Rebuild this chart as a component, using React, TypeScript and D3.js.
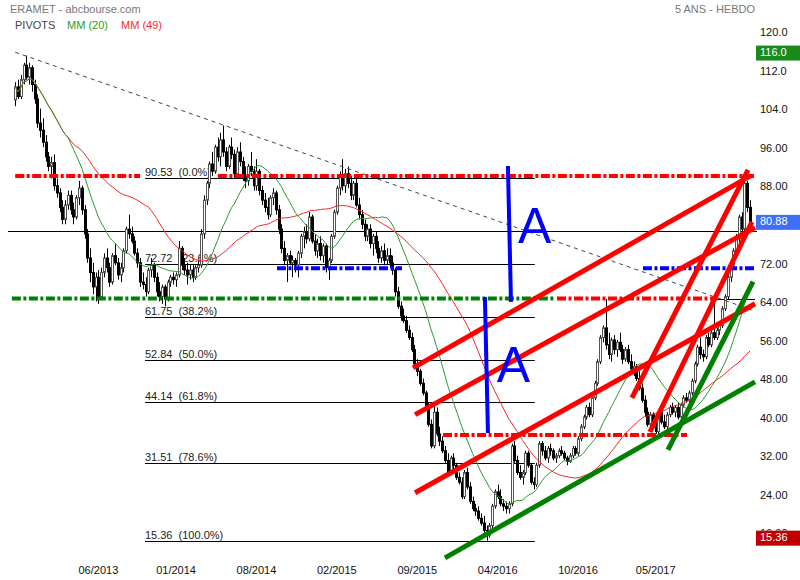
import React from 'react';
import * as d3 from 'd3';

const W = 800;
const H = 580;
const FONT = '"Liberation Sans", Arial, Helvetica, sans-serif';

// Weekly candles [open, high, low, close]
const ohlc: [number, number, number, number][] = [
[106.8,110.5,105.5,109.5],[109.5,111,107,107.5],[107.5,112,107,111],[111,114.5,110,114],[114,116,111,111.5],
[111.5,114.5,110,113.5],[113.5,114,108.5,110],[110,111,106,107],[107,108,101,102],[102,105,99,100.5],
[100.5,103,97,98],[98,99.5,94,95],[95,96,92,93],[93,95,90.5,93.8],[93.8,95.5,88,89],
[89,90.5,86.5,87.5],[87.5,88.5,83.5,84.5],[84.5,86,81,82],[82,86,81,85],[85,88,84,87],
[87,88,83,84],[84,85.5,81,82.5],[82.5,87,82,86.5],[86.5,90,85,88.5],[88.5,89,83,84],
[84,85,78,79],[79,80,73,74],[74,76,69,71],[71,73,66.5,68],[68,71,65,70],
[70,71.5,64.5,66],[66,72,65.5,71],[71,75,70,74],[74,76,71,72],[72,73,68,69],
[69,75,68.5,74.5],[74.5,77,72.5,73],[73,74,69.5,70.5],[70.5,73,69,72],[72,76,71,75.5],
[75.5,80.5,75,80],[80,83,78,79],[79,80.5,77,77.5],[77.5,78.5,74.5,75],[75,76,72,73],
[73,74,68,69],[69,71,67.5,68.5],[68.5,70,66,67],[67,72,66.5,71.5],[71.5,74,70,72.5],
[72.5,73,69,70],[70,71,66,67],[67,69,65,66],[66,68.5,64.5,68],[68,68.5,64,65.5],
[65.5,69.5,65,69],[69,70.5,68,70],[70,71,68.5,69.5],[69.5,71,68,70.5],[70.5,77.5,70,76],
[76,76.5,71.5,72.5],[72.5,74,70.5,71.5],[71.5,73,68.5,70.5],[70.5,72.5,69.5,71.5],[71.5,72.5,69,70],
[70,72.5,69.5,72],[72,73.5,71,72.5],[72.5,80,72,79],[79,87,78,86],[86,90,85,89.5],
[89.5,94,88.5,93.5],[93.5,96,91,92],[92,97.5,91.5,97],[97,99,94,95],[95,100,93,98.5],
[98.5,101.5,95,96],[96,97,92,93],[93,97.5,92.5,97],[97,99,94.5,95.5],[95.5,96.5,90.5,91.5],
[91.5,97,91,96],[96,98,93,94],[94,95,90,91],[91,93,88.5,90],[90,93.5,89,93],
[93,96,91,92],[92,93,88,89],[89,94.5,88,92],[92,92.5,87,88],[88,89,85,86],
[86,87.5,83.5,84.5],[84.5,86.5,82,83],[83,87,82.5,86.5],[86.5,88.5,85,87.5],[87.5,88,83,84],
[84,85,79,80],[80,81,75,76],[76,77.5,72.5,73.5],[73.5,75,69,74.5],[74.5,75.5,72.5,73],
[73,74.5,70,73.5],[73.5,74,71,72.5],[72.5,75.5,70,75],[75,79,74,78.5],[78.5,80.5,76,79.5],
[79.5,81,77,78],[78,83.5,77.5,82.5],[82.5,83,77,77.5],[77.5,79,74.5,75.5],[75.5,78,74,77],
[77,78.5,73.5,74.5],[74.5,77,73,76.5],[76.5,77,71,72],[72,74,69.5,73.5],[73.5,79,73,78.5],
[78.5,84,78,83.5],[83.5,89,83,88.5],[88.5,92,87,91],[91,94.5,88,89],[89,92.5,87.5,91.5],
[91.5,93,88.5,89.5],[89.5,91,86,87],[87,90,86,89.5],[89.5,90.5,84.5,85],[85,86.5,82,83],
[83,84,80,81],[81,82,77.5,78.5],[78.5,81,77.5,80],[80,81,76,77],[77,79,74.5,78.5],
[78.5,79.5,75,76],[76,77.5,73,74],[74,76.5,73,75.5],[75.5,77,72.5,73.5],[73.5,76,72.5,74.5],
[74.5,76,72,73],[73,74.5,70.5,71.5],[71.5,72,66,67],[67,68,63.5,64],[64,65,61,62],
[62,63.5,60.5,61],[61,62,58.5,59],[59,60,57,57.5],[57.5,58.5,54.5,55],[55,56,51,52],
[52,53,49.5,50.5],[50.5,51,47.5,48],[48,49,45.5,46],[46,46.5,42.5,43],[43,44,39,39.5],
[39.5,40.5,34.5,35],[35,43.5,34.5,42],[42,43,37,37.5],[37.5,39,35,36],[36,37,33.5,34],
[34,35,31.5,32],[32,33.5,29,29.5],[29.5,33,29,32.5],[32.5,33.5,30,31],[31,31.5,28,28.5],
[28.5,29.5,27,27.5],[27.5,28.5,24,24.5],[24.5,30,24,29.5],[29.5,30.5,26,26.5],[26.5,27.5,23,23.5],
[23.5,24.5,21.5,22],[22,23,20.5,21.5],[21.5,22.5,19.5,20],[20,21,18.5,19],[19,20.5,17,17.5],
[17.5,18.5,15.36,16.5],[16.5,19,16,18.5],[18.5,23,18,22.5],[22.5,26,22,25.5],[25.5,27,24,24.5],
[24.5,26,22.5,23],[23,24,21.5,22.5],[22.5,23.5,21,22],[22,23.5,21,23],[23,35.5,22.5,35],
[35,36,31.5,32],[32,33,29,29.5],[29.5,31,28,28.5],[28.5,30,27,29.5],[29.5,34,29,33.5],
[33.5,34,30.5,31],[31,31.5,27,27.5],[27.5,28.5,26,27],[27,31.5,26.5,31],[31,36,30.5,35.5],
[35.5,36,33,34],[34,35,32,32.5],[32.5,35,31.5,34.5],[34.5,35.5,33,34],[34,34.5,32,32.5],
[32.5,33.5,31.5,33],[33,34.5,32.5,34],[34,35,33,33.5],[33.5,34,32,32.5],[32.5,33,31,31.8],
[31.8,33.5,31.5,33],[33,35,32.5,34.5],[34.5,35,33,33.5],[33.5,37,33,36.5],[36.5,39.5,36,39],
[39,41.5,38.5,41],[41,43.5,40.5,43],[43,44,41,41.5],[41.5,45.5,41,45],[45,48.5,44.5,48],
[48,53,47.5,52.5],[52.5,58,52,57.5],[57.5,60,56.5,59.5],[59.5,65.5,55,56],[56,58.5,53,54],
[54,57.5,52.5,57],[57,58,54,55],[55,57,53.5,56.5],[56.5,58.5,54.5,55],[55,56,52,53],
[53,55.5,52.5,55],[55,56,52,52.5],[52.5,54,50.5,51],[51,52.5,49.5,51.5],[51.5,52,48.5,49],
[49,50.5,46.5,47],[47,48,44,44.5],[44.5,45.5,41,42],[42,43,39,39.5],[39.5,42,38.5,41.5],
[41.5,42,38.5,39],[39,40.5,37.5,38],[38,42.5,37.5,42],[42,43.5,39.5,40],[40,41.5,38.5,39],
[39,42,38.5,41.5],[41.5,43.5,41,43],[43,44,41.5,42],[42,43.5,41,43],[43,44,40.5,41],
[41,44,40.5,43.5],[43.5,45.5,43,45],[45,46,44,44.5],[44.5,46.5,44,46],[46,49,45.5,48.5],
[48.5,52.5,48,52],[52,56,51.5,55.5],[55.5,57.5,53,54],[54,55,52.5,53.5],[53.5,58,53,57.5],
[57.5,58.5,55.5,56],[56,59,55.5,58.5],[58.5,65,57,57.5],[57.5,59.5,57,59],[59,60.5,58,60],
[60,64,59.5,63.5],[63.5,66.5,63,66],[66,70.5,65.5,70],[70,73,69,72.5],[72.5,76,71.5,75.5],
[75.5,79,74.5,78],[78,83,77,82.5],[82.5,83.5,79,80],[80,91.3,79.5,89.5],[89.5,90,83.5,84.5],
[84.5,86,79.5,80.88]
];

// 80.00 is hidden under the last-price box in the reference
const yTicks = [120, 112, 104, 96, 88, 72, 64, 56, 48, 40, 32, 24, 16];
const xTickIdx = [30, 58, 87, 116, 145, 174, 203, 231];
const xTickLabels = ['06/2013', '01/2014', '08/2014', '02/2015', '09/2015', '04/2016', '10/2016', '05/2017'];

const fibLevels = [90.53, 72.72, 61.75, 52.84, 44.14, 31.51, 15.36];
const fibPcts = ['0.0%', '23.6%', '38.2%', '50.0%', '61.8%', '78.6%', '100.0%'];
const fibSpan = [46.8, 187.4];

const lastClose = 80.88;
const periodHigh = 116.0;
const periodLow = 15.36;
const refLine = { from: -2.6, to: 267.5, v: 79.6 };

// annotations in (bar index, price)
const dashDotLines = [
  { from: 0, to: 45, v: 91.0, color: '#ff0000' },
  { from: 73.1, to: 266.8, v: 91.0, color: '#ff0000' },
  { from: -1.2, to: 194.7, v: 65.6, color: '#008000' },
  { from: 195.4, to: 253.1, v: 65.6, color: '#ff0000' },
  { from: 154.3, to: 242.3, v: 37.3, color: '#ff0000' },
  { from: 94.4, to: 139.5, v: 71.9, color: '#0000ff' },
  { from: 226.4, to: 266.8, v: 71.9, color: '#0000ff' },
];
const thinSegments = [{ from: 253.1, to: 266.8, v: 65.5 }];
const dashedTrend: [number, number][] = [[0, 116.7], [266.8, 63.0]];

const redTrends: [number, number, number, number][] = [
  [143.5, 51.2, 265, 91.0],
  [144.2, 41.5, 266.8, 80.3],
  [144.2, 25.3, 266.8, 64.5],
  [222.4, 45.0, 264.3, 92.3],
  [228.9, 37.9, 265.7, 81.5],
];
const greenTrends: [number, number, number, number][] = [
  [155, 11.8, 266.8, 48.3],
  [235.4, 34.2, 266.1, 69.1],
];
const blueVerticals: [number, number, number, number][] = [
  [177.7, 93.1, 178.8, 64.9],
  [169.4, 65.9, 170.5, 37.7],
];
const letterMarks = [
  { i: 181.3, v: 77.1, text: 'A' },
  { i: 173.7, v: 48.3, text: 'A' },
];

function sma(vals: number[], n: number) {
  return vals.map((_, i) => {
    const s = vals.slice(Math.max(0, i - n + 1), i + 1);
    return d3.mean(s) as number;
  });
}

export default function App() {
  const x = d3.scaleLinear().domain([0, 265]).range([15.2, 750]);
  const y = d3.scaleLinear().domain([10, 120]).range([566.5, 36.3]);
  const closes = ohlc.map((d) => d[3]);
  const ma20 = sma(closes, 20);
  const ma49 = sma(closes, 49);
  const line = d3
    .line<number>()
    .x((_, i) => x(i))
    .y((d) => y(d));

  const fmt = (v: number) => (v >= 100 ? v.toFixed(1) : v.toFixed(2));
  const dd = '9 2.5 3 2.5';
  const lowBoxTop = y(periodLow) - 10;

  return (
    <svg
      width={W}
      height={H}
      style={{ position: 'absolute', left: 0, top: 0, background: '#fff' }}
      fontFamily={FONT}
    >
      <defs>
        <clipPath id="axisClip">
          <rect x={750} y={0} width={50} height={lowBoxTop} />
        </clipPath>
      </defs>
      <rect width={W} height={H} fill="#fff" />
      {/* header */}
      <text x={10} y={13} fontSize={11} fill="#777">ERAMET - abcbourse.com</text>
      <text x={15} y={29} fontSize={11} fill="#444">PIVOTS</text>
      <text x={67} y={29} fontSize={11} fill="#2a9a2a">MM (20)</text>
      <text x={121} y={29} fontSize={11} fill="#ff2a2a">MM (49)</text>
      <text x={755} y={13} fontSize={11} fill="#777" textAnchor="end">5 ANS - HEBDO</text>

      {/* fibonacci lines */}
      {fibLevels.map((v, k) => (
        <g key={'f' + k}>
          <line x1={x(fibSpan[0])} x2={x(fibSpan[1])} y1={Math.round(y(v)) + 0.5} y2={Math.round(y(v)) + 0.5} stroke="#000" strokeWidth={1} />
          <text x={x(fibSpan[0])} y={Math.round(y(v)) - 2} fontSize={11} fill="#222">
            {v.toFixed(2) + '\u00a0\u00a0(' + fibPcts[k] + ')'}
          </text>
        </g>
      ))}
      <line x1={x(refLine.from)} x2={x(refLine.to)} y1={Math.round(y(refLine.v)) + 0.5} y2={Math.round(y(refLine.v)) + 0.5} stroke="#000" strokeWidth={1} />
      {thinSegments.map((s, k) => (
        <line key={'t' + k} x1={x(s.from)} x2={x(s.to)} y1={Math.round(y(s.v)) + 0.5} y2={Math.round(y(s.v)) + 0.5} stroke="#000" strokeWidth={1} />
      ))}

      {/* candles */}
      {ohlc.map(([o, h, l, c], i) => {
        const cx = Math.round(x(i)) + 0.5;
        const up = c >= o;
        const top = y(Math.max(o, c));
        const bot = y(Math.min(o, c));
        return (
          <g key={'c' + i}>
            <line x1={cx} x2={cx} y1={y(h)} y2={y(l)} stroke="#000" strokeWidth={1} />
            <rect
              x={cx - 1}
              y={top}
              width={2}
              height={Math.max(1, bot - top)}
              fill={up ? '#fff' : '#000'}
              stroke={up ? '#555' : '#000'}
              strokeWidth={1}
            />
          </g>
        );
      })}

      {/* moving averages */}
      <path d={line(ma49) || ''} fill="none" stroke="#ff2020" strokeWidth={1} />
      <path d={line(ma20) || ''} fill="none" stroke="#2a9a2a" strokeWidth={1} />

      {/* dashed trend */}
      <line x1={x(dashedTrend[0][0])} y1={y(dashedTrend[0][1])} x2={x(dashedTrend[1][0])} y2={y(dashedTrend[1][1])} stroke="#444" strokeWidth={1} strokeDasharray="4 4" />

      {/* dash-dot pivots */}
      {dashDotLines.map((s, k) => (
        <line key={'d' + k} x1={x(s.from)} x2={x(s.to)} y1={y(s.v)} y2={y(s.v)} stroke={s.color} strokeWidth={4} strokeDasharray={dd} />
      ))}

      {/* trend lines */}
      {redTrends.map((t, k) => (
        <line key={'r' + k} x1={x(t[0])} y1={y(t[1])} x2={x(t[2])} y2={y(t[3])} stroke="#ff0000" strokeWidth={5} />
      ))}
      {greenTrends.map((t, k) => (
        <line key={'g' + k} x1={x(t[0])} y1={y(t[1])} x2={x(t[2])} y2={y(t[3])} stroke="#008000" strokeWidth={5} />
      ))}
      {blueVerticals.map((t, k) => (
        <line key={'b' + k} x1={x(t[0])} y1={y(t[1])} x2={x(t[2])} y2={y(t[3])} stroke="#0000ff" strokeWidth={4} />
      ))}
      {letterMarks.map((m, k) => (
        <text key={'a' + k} x={x(m.i)} y={y(m.v)} fontSize={50} fill="#0000ff">{m.text}</text>
      ))}

      {/* right axis */}
      <g clipPath="url(#axisClip)">
        {yTicks.map((v) => (
          <text key={'y' + v} x={760} y={y(v) - 3} fontSize={11} fill="#111" dominantBaseline="middle">
            {fmt(v)}
          </text>
        ))}
      </g>
      {/* bottom axis */}
      {xTickIdx.map((idx, k) => (
        <text key={'x' + k} x={x(idx)} y={574} fontSize={11} fill="#111" textAnchor="middle">
          {xTickLabels[k]}
        </text>
      ))}

      {/* value boxes */}
      {[
        { v: periodHigh, fill: '#1a8a1a', label: periodHigh.toFixed(1) },
        { v: lastClose, fill: '#3f6ff5', label: lastClose.toFixed(2) },
        { v: periodLow, fill: '#c00000', label: periodLow.toFixed(2) },
      ].map((b, k) => (
        <g key={'box' + k}>
          <rect x={756} y={y(b.v) - 10} width={44} height={15} fill={b.fill} />
          <text x={760} y={y(b.v) - 2.5} fontSize={11} fill="#fff" dominantBaseline="middle">{b.label}</text>
        </g>
      ))}
    </svg>
  );
}
